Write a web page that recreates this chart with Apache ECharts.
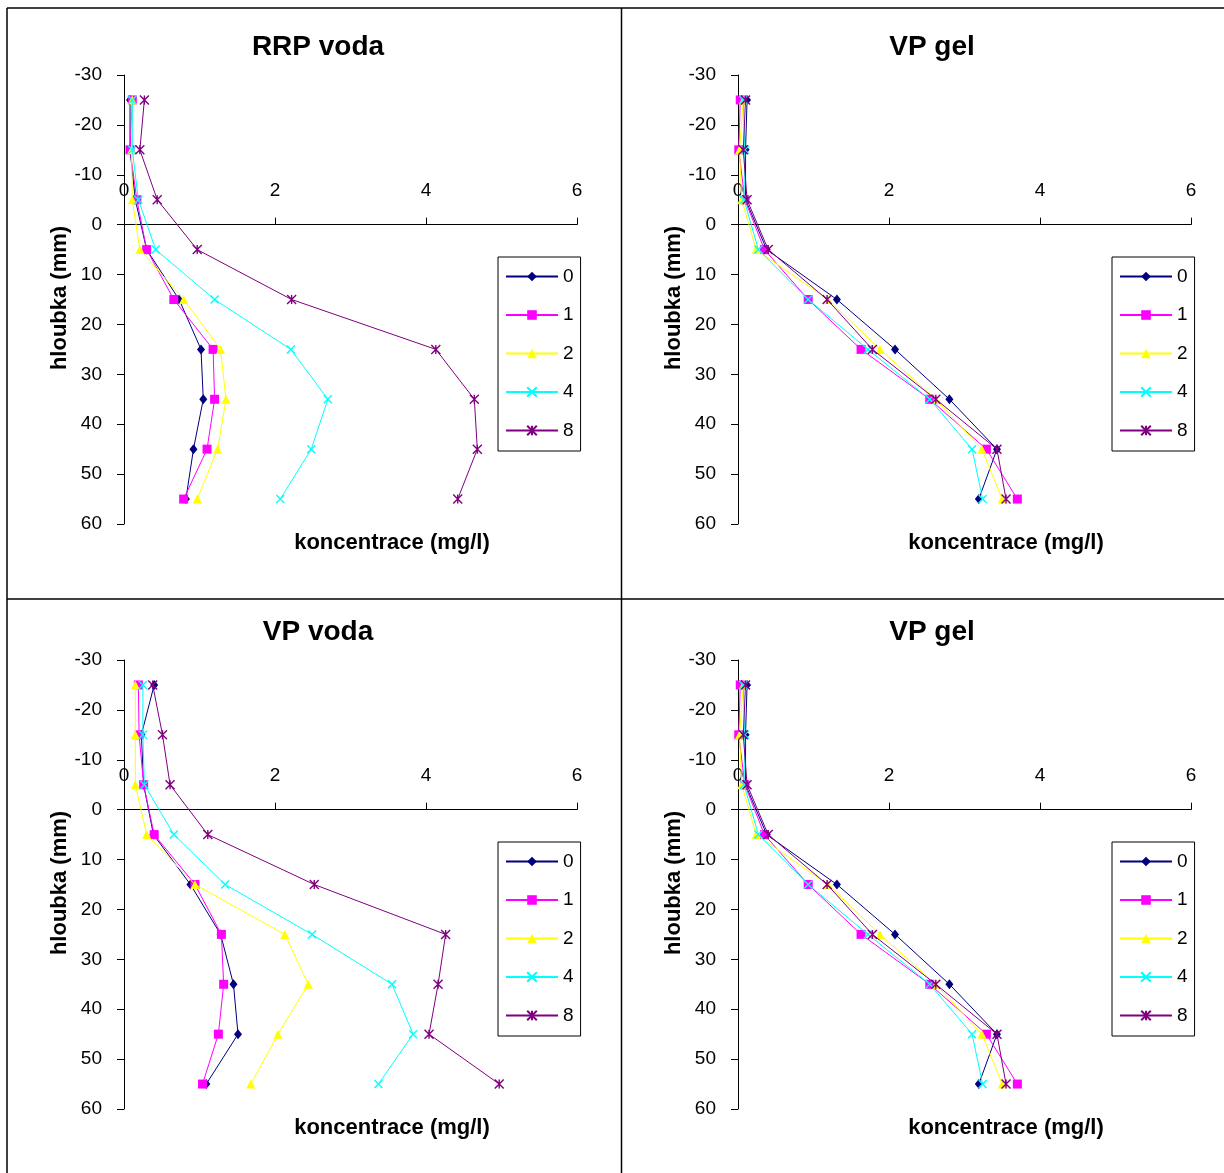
<!DOCTYPE html>
<html><head><meta charset="utf-8">
<script src="https://cdn.jsdelivr.net/npm/echarts@6/dist/echarts.min.js"></script>
<style>html,body{margin:0;padding:0;background:#fff}#c{width:1224px;height:1173px}</style>
</head><body><div id="c"></div>
<script>
// ---- data ----
const seriesNames = ['0', '1', '2', '4', '8'];
const depth = [-25, -15, -5, 5, 15, 25, 35, 45, 55];
const yTicks = [-30, -20, -10, 0, 10, 20, 30, 40, 50, 60];
const xTicks = [0, 2, 4, 6];

// RRP voda
const rrpVoda0 = [0.08, 0.08, 0.15, 0.30, 0.73, 1.02, 1.05, 0.92, 0.82];
const rrpVoda1 = [0.11, 0.08, 0.17, 0.30, 0.66, 1.18, 1.20, 1.10, 0.79];
const rrpVoda2 = [0.11, 0.10, 0.11, 0.21, 0.79, 1.28, 1.35, 1.24, 0.97];
const rrpVoda4 = [0.11, 0.11, 0.19, 0.42, 1.20, 2.21, 2.70, 2.48, 2.07];
const rrpVoda8 = [0.27, 0.21, 0.44, 0.97, 2.22, 4.13, 4.64, 4.68, 4.42];

// VP gel
const vpGel0 = [0.12, 0.10, 0.10, 0.38, 1.31, 2.08, 2.80, 3.43, 3.19];
const vpGel1 = [0.03, 0.01, 0.09, 0.35, 0.93, 1.63, 2.54, 3.29, 3.70];
const vpGel2 = [0.07, 0.02, 0.05, 0.24, 1.19, 1.88, 2.62, 3.23, 3.50];
const vpGel4 = [0.07, 0.09, 0.08, 0.27, 0.93, 1.72, 2.54, 3.10, 3.24];
const vpGel8 = [0.10, 0.07, 0.12, 0.40, 1.18, 1.78, 2.62, 3.43, 3.55];

// VP voda
const vpVoda0 = [0.40, 0.23, 0.26, 0.39, 0.88, 1.28, 1.45, 1.51, 1.09];
const vpVoda1 = [0.19, 0.20, 0.26, 0.40, 0.94, 1.29, 1.32, 1.25, 1.04];
const vpVoda2 = [0.15, 0.15, 0.15, 0.30, 0.94, 2.13, 2.44, 2.04, 1.68];
const vpVoda4 = [0.25, 0.25, 0.27, 0.66, 1.34, 2.49, 3.55, 3.83, 3.37];
const vpVoda8 = [0.38, 0.51, 0.61, 1.11, 2.52, 4.26, 4.16, 4.04, 4.97];

const panelTitles = ['RRP voda', 'VP gel', 'VP voda', 'VP gel'];
const xName = 'koncentrace (mg/l)';
const yName = 'hloubka (mm)';

// ---- styles / layout ----
const colors = ['#000080', '#FF00FF', '#FFFF00', '#00FFFF', '#800080'];
const symbols = ['diamond', 'rect', 'triangle',
  'path://M0,0L10,10M10,0L0,10',
  'path://M0,0L10,10M10,0L0,10M5,0L5,10'];
const symbolSizes = [[8, 10], 9, 9, 8, 9];
const FONT = '"Liberation Sans", Arial, sans-serif';

const panelData = [
  [rrpVoda0, rrpVoda1, rrpVoda2, rrpVoda4, rrpVoda8],
  [vpGel0, vpGel1, vpGel2, vpGel4, vpGel8],
  [vpVoda0, vpVoda1, vpVoda2, vpVoda4, vpVoda8],
  [vpGel0, vpGel1, vpGel2, vpGel4, vpGel8]
];
const offsets = [[0, 0], [614, 0], [0, 585], [614, 585]];
const GRID_H = 449;
// x axis line sits at depth 0: distance from grid top = 30/90 of height
const X_AXIS_SHIFT = -GRID_H * 30 / 90;

const grids = [], xAxes = [], yAxes = [], series = [], legends = [], graphics = [];

panelData.forEach((pd, p) => {
  const [dx, dy] = offsets[p];
  grids.push({ left: 124 + dx, top: 75 + dy, width: 453, height: GRID_H, containLabel: false });
  xAxes.push({
    gridIndex: p, type: 'value', position: 'top', offset: X_AXIS_SHIFT,
    min: 0, max: 6, interval: 2,
    axisLine: { onZero: false, lineStyle: { color: '#000', width: 1 } },
    axisTick: { show: true, length: 7, lineStyle: { color: '#000' } },
    axisLabel: { color: '#000', fontSize: 19, fontFamily: FONT, margin: 24,
      formatter: v => xTicks.includes(v) ? String(v) : '' },
    splitLine: { show: false }
  });
  yAxes.push({
    gridIndex: p, type: 'value', inverse: true, min: -30, max: 60, interval: 10,
    axisLine: { show: true, onZero: false, lineStyle: { color: '#000', width: 1 } },
    axisTick: { show: true, length: 7, lineStyle: { color: '#000' } },
    axisLabel: { color: '#000', fontSize: 19, fontFamily: FONT, margin: 22,
      formatter: v => yTicks.includes(v) ? String(v) : '' },
    splitLine: { show: false }
  });
  pd.forEach((arr, s) => {
    const isStroke = s >= 3;
    series.push({
      name: seriesNames[s], type: 'line', xAxisIndex: p, yAxisIndex: p,
      data: arr.map((v, i) => [v, depth[i]]),
      symbol: symbols[s], symbolSize: symbolSizes[s], showSymbol: true,
      lineStyle: { color: colors[s], width: 1 },
      itemStyle: isStroke ? { color: colors[s], borderColor: colors[s], borderWidth: 1.4 }
                          : { color: colors[s], borderWidth: 0 },
      emphasis: { disabled: true }, silent: true, clip: false, z: 2 + s
    });
  });
  legends.push({
    data: seriesNames, orient: 'vertical', left: 498 + dx, top: 257 + dy,
    itemWidth: 52, itemHeight: 12, itemGap: 19.5,
    padding: [10, 7, 11, 7], borderColor: '#000', borderWidth: 1,
    textStyle: { color: '#000', fontSize: 19, fontFamily: FONT },
    selectedMode: false
  });
  graphics.push({ type: 'text', x: 318 + dx, y: 47 + dy,
    style: { text: panelTitles[p], textAlign: 'center', textVerticalAlign: 'middle',
      font: 'bold 28px ' + FONT, fill: '#000' } });
  graphics.push({ type: 'text', x: 392 + dx, y: 543 + dy,
    style: { text: xName, textAlign: 'center', textVerticalAlign: 'middle',
      font: 'bold 22px ' + FONT, fill: '#000' } });
  graphics.push({ type: 'text', x: 60 + dx, y: 298 + dy, rotation: Math.PI / 2,
    style: { text: yName, textAlign: 'center', textVerticalAlign: 'middle',
      font: 'bold 22px ' + FONT, fill: '#000' } });
});

// table borders
const lineStyle = { stroke: '#000', lineWidth: 1.5 };
graphics.push({ type: 'line', shape: { x1: 7, y1: 8, x2: 1224, y2: 8 }, style: lineStyle });
graphics.push({ type: 'line', shape: { x1: 7, y1: 599, x2: 1224, y2: 599 }, style: lineStyle });
graphics.push({ type: 'line', shape: { x1: 7, y1: 8, x2: 7, y2: 1173 }, style: lineStyle });
graphics.push({ type: 'line', shape: { x1: 621.5, y1: 8, x2: 621.5, y2: 1173 }, style: lineStyle });

const chart = echarts.init(document.getElementById('c'), null, { renderer: 'canvas' });
chart.setOption({
  animation: false,
  backgroundColor: '#fff',
  grid: grids, xAxis: xAxes, yAxis: yAxes, series: series,
  legend: legends,
  graphic: graphics
});
</script></body></html>
